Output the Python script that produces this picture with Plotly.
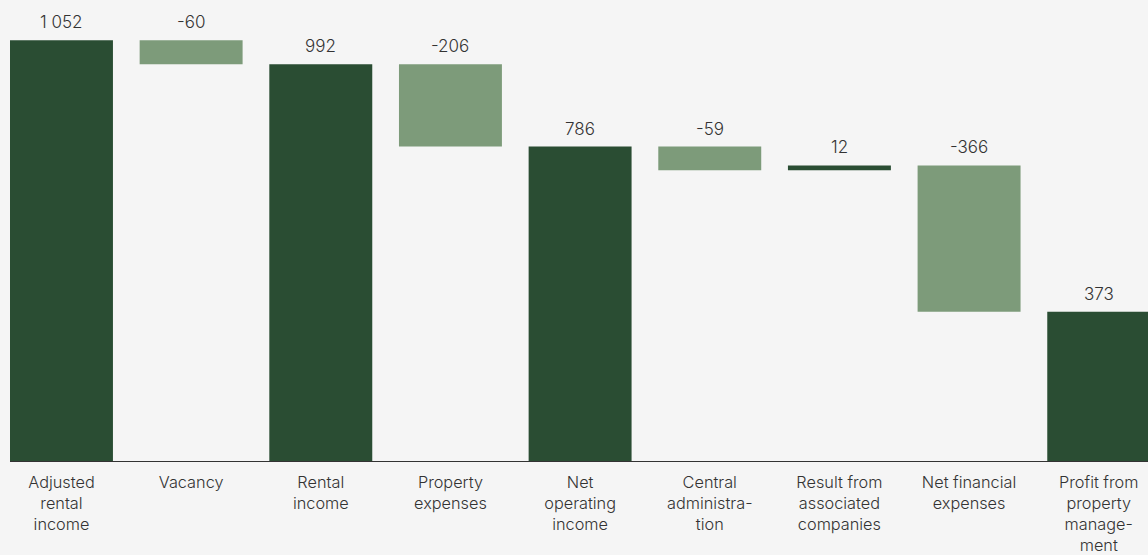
import plotly.graph_objects as go

categories = [
    "Adjusted<br>rental<br>income",
    "Vacancy",
    "Rental<br>income",
    "Property<br>expenses",
    "Net<br>operating<br>income",
    "Central<br>administra-<br>tion",
    "Result from<br>associated<br>companies",
    "Net financial<br>expenses",
    "Profit from<br>property<br>manage-<br>ment",
]
values = [1052, -60, 992, -206, 786, -59, 12, -366, 373]
measures = ["absolute", "relative", "total", "relative", "total",
            "relative", "relative", "relative", "total"]

DARK = "#2a4d33"
LIGHT = "#7d9b7a"
BG = "#f5f5f5"
TEXT = "#333333"
FONT = "Inter, Lato, sans-serif"

fig = go.Figure(go.Waterfall(
    x=list(range(len(categories))),
    y=values,
    measure=measures,
    connector=dict(visible=False),
    increasing=dict(marker=dict(color=DARK)),
    decreasing=dict(marker=dict(color=LIGHT)),
    totals=dict(marker=dict(color=DARK)),
    width=0.794,
    hoverinfo="skip",
))

# value labels placed above the upper edge of each bar
running = 0
annotations = []
for i, (v, m) in enumerate(zip(values, measures)):
    if m == "absolute":
        start, end = 0, v
        running = v
    elif m == "total":
        start, end = 0, running
    else:
        start, end = running, running + v
        running += v
    top = max(start, end)
    label = f"{v:,}".replace(",", " ")
    annotations.append(dict(
        x=i, y=top, text=label, showarrow=False,
        yanchor="bottom", yshift=6,
        font=dict(size=17, color=TEXT, family=FONT, weight=300),
    ))

fig.update_layout(
    width=1148, height=555,
    margin=dict(l=10, r=0, t=21, b=94),
    paper_bgcolor=BG, plot_bgcolor=BG,
    showlegend=False,
    annotations=annotations,
    font=dict(family=FONT, size=16, color=TEXT, weight=300),
    xaxis=dict(
        range=[-0.397, 8.38],
        tickmode="array",
        tickvals=list(range(len(categories))),
        ticktext=categories,
        showgrid=False, zeroline=False,
        showline=True, linecolor="#333333", linewidth=1,
        ticks="", ticklabelstandoff=6,
        automargin=False,
        tickfont=dict(size=16.3, color=TEXT, family=FONT, weight=300),
        fixedrange=True,
    ),
    yaxis=dict(
        range=[0, 1100],
        visible=False,
        showgrid=False, zeroline=False,
        automargin=False,
        fixedrange=True,
    ),
)

fig.write_html("out.html")
